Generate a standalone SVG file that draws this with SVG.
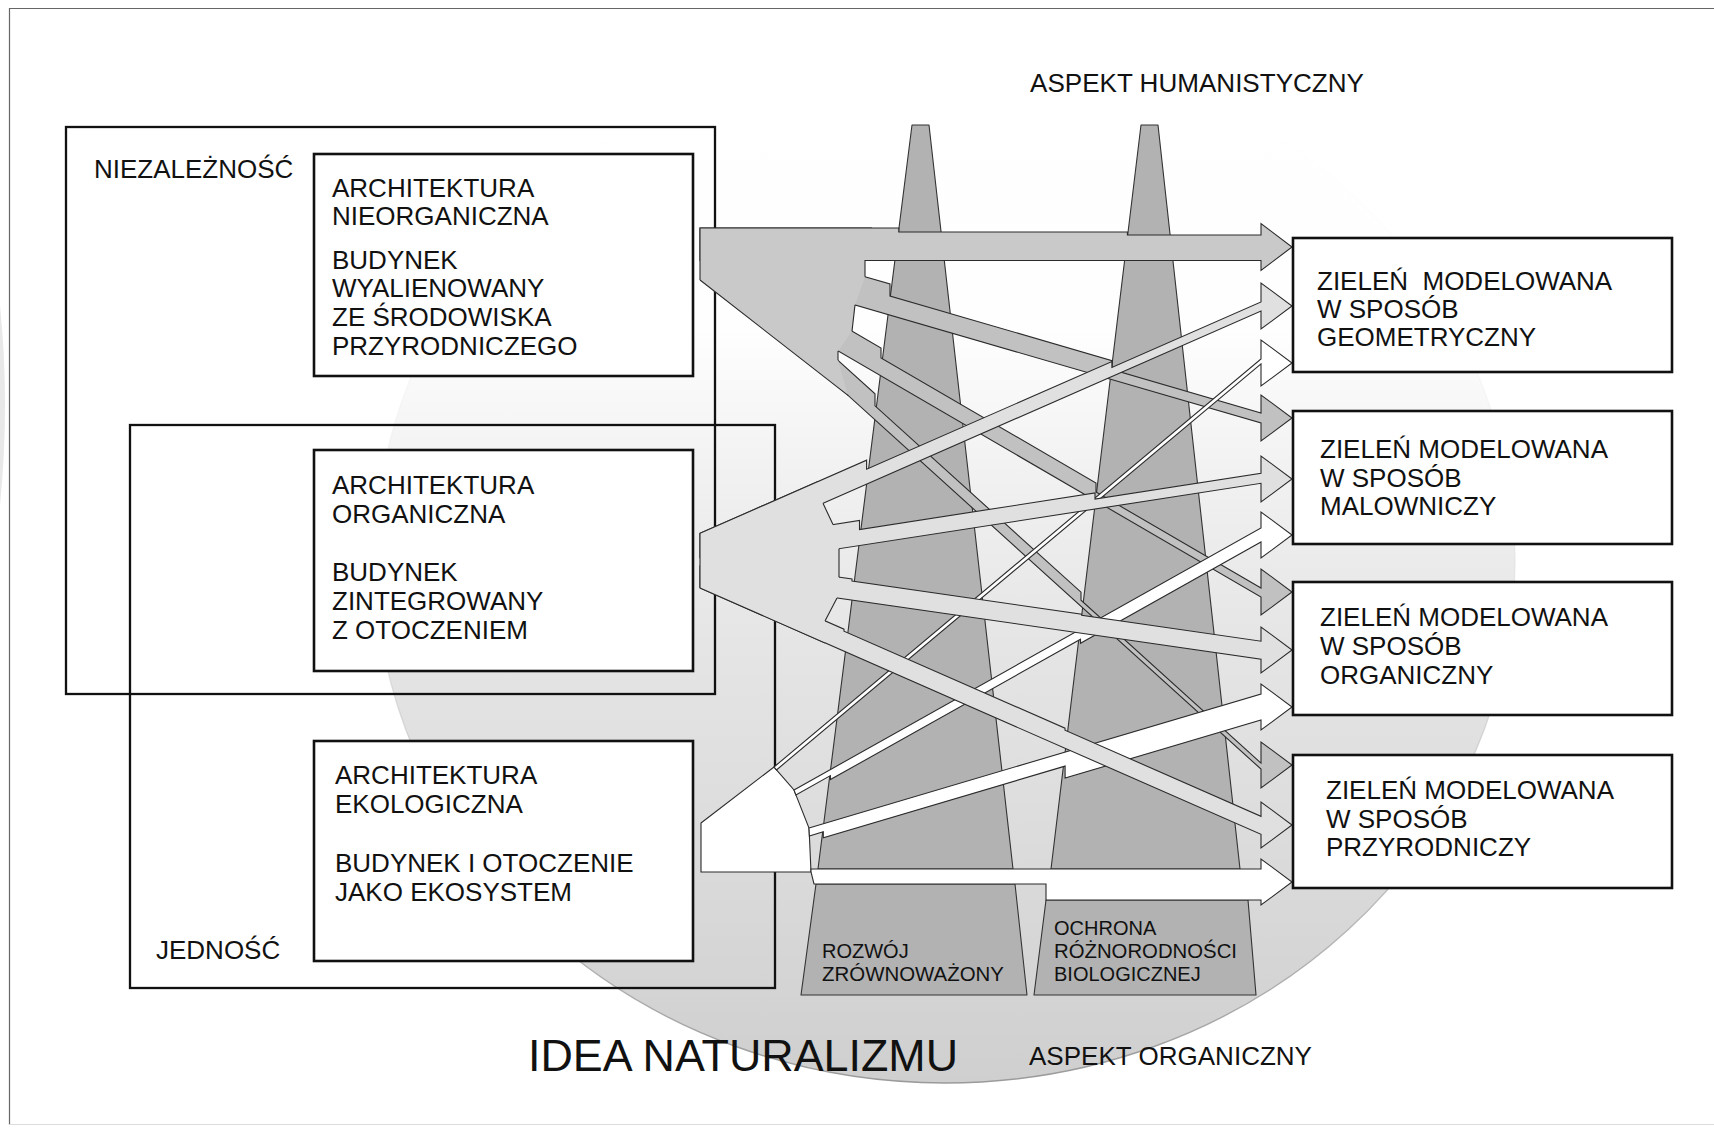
<svg xmlns="http://www.w3.org/2000/svg" width="1714" height="1129" viewBox="0 0 1714 1129">
<defs>
  <linearGradient id="discFill" gradientUnits="userSpaceOnUse" x1="0" y1="37" x2="0" y2="1083">
    <stop offset="0" stop-color="#ffffff"/>
    <stop offset="0.28" stop-color="#fefefe"/>
    <stop offset="0.42" stop-color="#f1f1f1"/>
    <stop offset="0.58" stop-color="#e5e5e5"/>
    <stop offset="0.78" stop-color="#dbdbdb"/>
    <stop offset="1" stop-color="#cfcfcf"/>
  </linearGradient>
  <linearGradient id="discEdge" gradientUnits="userSpaceOnUse" x1="0" y1="37" x2="0" y2="1083">
    <stop offset="0" stop-color="#ffffff" stop-opacity="0"/>
    <stop offset="0.45" stop-color="#e0e0e0" stop-opacity="0.4"/>
    <stop offset="1" stop-color="#9a9a9a"/>
  </linearGradient>
  <style>
    .frame{fill:none;stroke:#666;stroke-width:1.2}
    .group{fill:none;stroke:#111;stroke-width:2.3}
    .box{fill:#fff;stroke:#111;stroke-width:2.6}
    .t{font-family:"Liberation Sans",Arial,Helvetica,sans-serif;font-size:26px;fill:#111}
    .small{font-size:20px}
    .tower{fill:#b2b2b2;stroke:#333;stroke-width:1.1;stroke-linejoin:round}
    .arr{stroke:#2b2b2b;stroke-width:1.1;stroke-linejoin:miter}
    .grey{fill:#c9c9c9}
    .grey2{fill:#c1c1c1}
    .light{fill:#e0e0e0}
    .white{fill:#ffffff}
    .fan{stroke:none}
    .edge{fill:none;stroke:#2b2b2b;stroke-width:1.1}
  </style>
</defs>

<!-- page -->
<rect x="0" y="0" width="1714" height="1129" fill="#ffffff"/>
<path d="M0,305 Q10,405 0,505 Z" fill="#e8e8e8"/>
<path class="frame" d="M9.5,1124.5 V8.5 H1714"/>
<path d="M9.5,1124.5 H1714" fill="none" stroke="#dcdcdc" stroke-width="1"/>

<!-- background disc: idea of naturalism -->
<ellipse cx="945" cy="560" rx="570" ry="523" fill="url(#discFill)" stroke="url(#discEdge)" stroke-width="1.4"/>

<!-- grouping frames -->
<g id="niezaleznosc">
  <rect class="group" x="66" y="127" width="649" height="567"/>
  <text class="t" x="94" y="178">NIEZALEŻNOŚĆ</text>
</g>
<g id="jednosc">
  <rect class="group" x="130" y="425" width="645" height="563"/>
  <text class="t" x="156" y="959">JEDNOŚĆ</text>
</g>

<!-- towers -->
<g id="tower-rozwoj">
  <polygon class="tower" points="912,125 929,125 1013,869 818,869"/>
  <polygon class="tower" points="816,884 1015,884 1027,995 801,995"/>
  <text class="t small"><tspan x="822" y="958">ROZWÓJ</tspan><tspan x="822" y="981" textLength="182" lengthAdjust="spacingAndGlyphs">ZRÓWNOWAŻONY</tspan></text>
</g>
<g id="tower-ochrona">
  <polygon class="tower" points="1141,125 1158,125 1240,869 1051,869"/>
  <polygon class="tower" points="1046,900 1248,900 1256,995 1034,995"/>
  <text class="t small"><tspan x="1054" y="935">OCHRONA</tspan><tspan x="1054" y="958" textLength="183" lengthAdjust="spacingAndGlyphs">RÓŻNORODNOŚCI</tspan><tspan x="1054" y="981">BIOLOGICZNEJ</tspan></text>
</g>

<!-- connectors -->
<g id="connectors">
  <!-- from inorganic architecture (grey) -->
  <g id="flow-nieorganiczna">
    <polygon class="arr grey" points="700,228 898.8,228 898.8,232 1127.4,232 1127.4,235 1261,235 1261,223.5 1292,247 1261,270.5 1261,260.5 700,260.5"/>
    <polygon class="arr grey2" points="845,271 890,284 890,296 1112,360.6 1112,369.6 1261,413 1261,395 1292,418 1261,441 1261,423 845,302"/>
    <polygon class="arr grey2" points="830,318.3 881,348 881,358 1096,483 1096,492 1261,588 1261,569 1292,592 1261,615 1261,597 830,346.3"/>
    <polygon class="arr grey2" points="830,353.1 875,393.8 875,405.8 1081,592.2 1081,600.2 1261,763.1 1261,742 1292,765 1261,788 1261,769.1 830,379.1"/>
    <polygon class="fan grey" points="700,228 872,228 872,260.5 865,260.5 865,276.8 855,304.9 852,331.1 838,351 838,360.3 848,395.4 700,280"/>
    <path class="edge" d="M700,280 L700,228 L872,228 M872,260.5 L865,260.5 L865,276.8 M855,304.9 L852,331.1 M838,351 L838,360.3 M848,395.4 L700,280"/>
  </g>
  <!-- from ecological architecture (white) -->
  <g id="flow-ekologiczna">
    <polygon class="arr white" points="701,823 774,767 776.5,769.9 794,790 795.9,794.9 809,828 809.4,836 811,872 701,872"/>
    <polygon class="arr white" points="774,767 1261,358.9 1261,340 1292,363 1261,386 1261,363.9 776.5,769.9"/>
    <polygon class="arr white" points="794,790 1261,528 1261,512 1292,535 1261,558 1261,542 1080.5,643.3 1080.5,639.3 830.4,779.6 830.4,775.6 795.9,794.9"/>
    <polygon class="arr white" points="809,828 1261,694 1261,684 1292,707 1261,730 1261,720 1065.1,778.1 1065.1,766.1 823.3,837.8 823.3,831.8 809.4,836"/>
    <polygon class="arr white" points="811,869 1261,869 1261,859 1292,882 1261,905 1261,900 1046,900 1046,884 814,884 811,872"/>
  </g>
  <!-- from organic architecture (light grey) -->
  <g id="flow-organiczna">
    <polygon class="arr light" points="700,533.3 866.6,460.2 866.6,469.2 1111.9,361.5 1111.9,367.5 1261,302 1261,283 1292,306 1261,329 1261,311 700,557.3"/>
    <polygon class="arr light" points="810,528.2 859.5,520.5 859.5,529.5 1095,493 1095,499 1261,473.3 1261,456 1292,479 1261,502 1261,483.3 810,553.2"/>
    <polygon class="arr light" points="815,573.7 852,579 852,581 1081.7,614.3 1081.7,615.3 1261,641.2 1261,627 1292,650 1261,673 1261,659.2 815,594.7"/>
    <polygon class="arr light" points="700,566 844,629.2 844,631.2 1065,728.2 1065,730.2 1261,816.3 1261,802 1292,825 1261,848 1261,834.3 700,588"/>
    <polygon class="fan light" points="700,533.3 818,481.5 823,503.3 833,524.6 839,548.7 839,577.2 837,597.9 825,620.9 825,642.9 700,588"/>
    <path class="edge" d="M700,588 L700,533.3 L818,481.5 M823,503.3 L833,524.6 M839,548.7 L839,577.2 M837,597.9 L825,620.9 M825,642.9 L700,588"/>
  </g>
</g>

<!-- architecture types -->
<g id="arch-nieorganiczna">
  <rect class="box" x="314" y="154" width="379" height="222"/>
  <text class="t"><tspan x="332" y="197">ARCHITEKTURA</tspan><tspan x="332" y="225">NIEORGANICZNA</tspan><tspan x="332" y="269">BUDYNEK</tspan><tspan x="332" y="297">WYALIENOWANY</tspan><tspan x="332" y="326">ZE ŚRODOWISKA</tspan><tspan x="332" y="355">PRZYRODNICZEGO</tspan></text>
</g>
<g id="arch-organiczna">
  <rect class="box" x="314" y="450" width="379" height="221"/>
  <text class="t"><tspan x="332" y="494">ARCHITEKTURA</tspan><tspan x="332" y="523">ORGANICZNA</tspan><tspan x="332" y="581">BUDYNEK</tspan><tspan x="332" y="610">ZINTEGROWANY</tspan><tspan x="332" y="639">Z OTOCZENIEM</tspan></text>
</g>
<g id="arch-ekologiczna">
  <rect class="box" x="314" y="741" width="379" height="220"/>
  <text class="t"><tspan x="335" y="784">ARCHITEKTURA</tspan><tspan x="335" y="813">EKOLOGICZNA</tspan><tspan x="335" y="872">BUDYNEK I OTOCZENIE</tspan><tspan x="335" y="901">JAKO EKOSYSTEM</tspan></text>
</g>

<!-- greenery types -->
<g id="zielen-geometryczna">
  <rect class="box" x="1293" y="238" width="379" height="134"/>
  <text class="t" xml:space="preserve"><tspan x="1317" y="290">ZIELEŃ  MODELOWANA</tspan><tspan x="1317" y="318">W SPOSÓB</tspan><tspan x="1317" y="346">GEOMETRYCZNY</tspan></text>
</g>
<g id="zielen-malownicza">
  <rect class="box" x="1293" y="411" width="379" height="133"/>
  <text class="t"><tspan x="1320" y="458">ZIELEŃ MODELOWANA</tspan><tspan x="1320" y="487">W SPOSÓB</tspan><tspan x="1320" y="515">MALOWNICZY</tspan></text>
</g>
<g id="zielen-organiczna">
  <rect class="box" x="1293" y="582" width="379" height="133"/>
  <text class="t"><tspan x="1320" y="626">ZIELEŃ MODELOWANA</tspan><tspan x="1320" y="655">W SPOSÓB</tspan><tspan x="1320" y="684">ORGANICZNY</tspan></text>
</g>
<g id="zielen-przyrodnicza">
  <rect class="box" x="1293" y="755" width="379" height="133"/>
  <text class="t"><tspan x="1326" y="799">ZIELEŃ MODELOWANA</tspan><tspan x="1326" y="828">W SPOSÓB</tspan><tspan x="1326" y="856">PRZYRODNICZY</tspan></text>
</g>

<!-- headings -->
<text class="t" x="1030" y="92" style="font-size:25.5px" textLength="334" lengthAdjust="spacingAndGlyphs">ASPEKT HUMANISTYCZNY</text>
<text class="t" x="1029" y="1065" style="font-size:25.5px" textLength="283" lengthAdjust="spacingAndGlyphs">ASPEKT ORGANICZNY</text>
<text class="t" x="528" y="1071" style="font-size:44px" textLength="430" lengthAdjust="spacingAndGlyphs">IDEA NATURALIZMU</text>
</svg>
